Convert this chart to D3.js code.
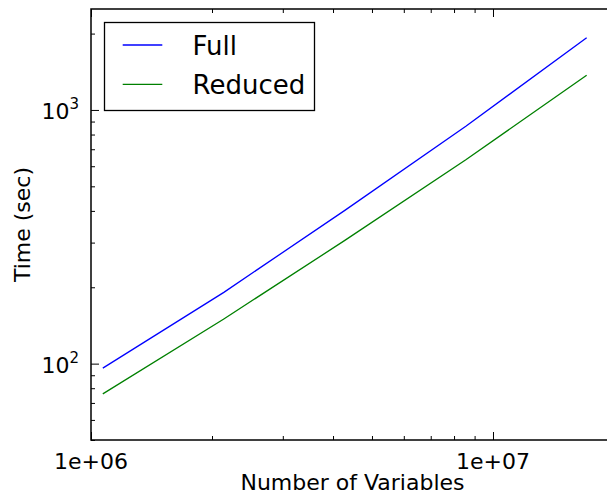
<!DOCTYPE html>
<html>
<head>
<meta charset="utf-8">
<script src="https://cdn.jsdelivr.net/npm/d3@7"></script>
<style>
body { margin: 0; background: #fff; }
svg { display: block; font-family: "DejaVu Sans", sans-serif; }
.axis path { display: none; }
.axis line { stroke: #000; stroke-width: 1; }
</style>
</head>
<body>
<svg id="chart"></svg>
<script>
var variables = [1.07e6, 2.14e6, 4.28e6, 8.56e6, 1.71e7];
var fullTime = [96, 191, 402, 863, 1926];
var reducedTime = [76, 150, 306, 636, 1370];
var seriesNames = ["Full", "Reduced"];
var seriesColors = ["#0000ff", "#008000"];
var xMajor = [1e6, 1e7];
var yMajor = [100, 1000];

var width = 607, height = 494;
var mLeft = 91, mTop = 9, mBottom = 440, mRight = 614;

var svg = d3.select("#chart").attr("width", width).attr("height", height);

var x = d3.scaleLog().domain([1e6, 2e7]).range([mLeft, mRight]);
var y = d3.scaleLog().domain([50, 2500]).range([mBottom, mTop]);

// minor ticks, 2..9 per decade
var xMinor = [], yMinor = [];
[1e6, 1e7].forEach(function (d) {
    for (var k = 2; k <= 9; k++) if (d * k <= 2e7) xMinor.push(d * k);
});
[10, 100, 1000].forEach(function (d) {
    for (var k = 2; k <= 9; k++) if (d * k >= 50 && d * k <= 2500) yMinor.push(d * k);
});

var plotH = mBottom - mTop, plotW = mRight - mLeft;

function tickLayer(axis) {
    return svg.append("g").attr("class", "axis").call(axis);
}
// bottom and top
tickLayer(d3.axisBottom(x).tickValues(xMajor).tickSize(-8).tickFormat(""))
    .attr("transform", "translate(0," + mBottom + ")");
tickLayer(d3.axisBottom(x).tickValues(xMinor).tickSize(-4).tickFormat(""))
    .attr("transform", "translate(0," + mBottom + ")");
tickLayer(d3.axisTop(x).tickValues(xMajor).tickSize(-8).tickFormat(""))
    .attr("transform", "translate(0," + mTop + ")");
tickLayer(d3.axisTop(x).tickValues(xMinor).tickSize(-4).tickFormat(""))
    .attr("transform", "translate(0," + mTop + ")");
// left (the right side is cut off in the picture)
tickLayer(d3.axisLeft(y).tickValues(yMajor).tickSize(-8).tickFormat(""))
    .attr("transform", "translate(" + mLeft + ",0)");
tickLayer(d3.axisLeft(y).tickValues(yMinor).tickSize(-4).tickFormat(""))
    .attr("transform", "translate(" + mLeft + ",0)");

// frame
svg.append("rect")
    .attr("x", mLeft).attr("y", mTop)
    .attr("width", plotW).attr("height", plotH)
    .attr("fill", "none").attr("stroke", "#000").attr("stroke-width", 1.5);

// tick labels
svg.append("g").selectAll("text")
    .data(xMajor)
    .enter().append("text")
    .attr("x", function (d) { return x(d); })
    .attr("y", 469)
    .attr("text-anchor", "middle")
    .attr("font-size", 22)
    .text(function (d) { return d3.format(".0e")(d).replace("e+", "e+0"); });

var yl = svg.append("g").selectAll("text")
    .data(yMajor)
    .enter().append("text")
    .attr("x", 79)
    .attr("y", function (d) { return y(d) + 9; })
    .attr("text-anchor", "end")
    .attr("font-size", 22);
yl.append("tspan").text("10");
yl.append("tspan").attr("dy", -10).attr("font-size", 15)
    .text(function (d) { return Math.round(Math.log10(d)); });

// axis titles
svg.append("text")
    .attr("x", (mLeft + mRight) / 2).attr("y", 490)
    .attr("text-anchor", "middle").attr("font-size", 22)
    .text("Number of Variables");
svg.append("text")
    .attr("transform", "translate(30," + ((mTop + mBottom) / 2) + ") rotate(-90)")
    .attr("text-anchor", "middle").attr("font-size", 22)
    .text("Time (sec)");

// lines
var series = [fullTime, reducedTime];
var line = d3.line()
    .x(function (d, i) { return x(variables[i]); })
    .y(function (d) { return y(d); });

svg.append("g").selectAll("path")
    .data(series)
    .enter().append("path")
    .attr("d", line)
    .attr("fill", "none")
    .attr("stroke", function (d, i) { return seriesColors[i]; })
    .attr("stroke-width", 1.3);

// legend
var legend = svg.append("g");
legend.append("rect")
    .attr("x", 104.5).attr("y", 22.5)
    .attr("width", 210).attr("height", 88)
    .attr("fill", "#fff").attr("stroke", "#000").attr("stroke-width", 1.3);
var item = legend.selectAll("g.item")
    .data(seriesNames)
    .enter().append("g")
    .attr("transform", function (d, i) { return "translate(0," + (45 + i * 39.3) + ")"; });
item.append("line")
    .attr("x1", 122.7).attr("x2", 162.3)
    .attr("stroke", function (d, i) { return seriesColors[i]; })
    .attr("stroke-width", 1.3);
item.append("text")
    .attr("x", 192.5).attr("y", 9.5)
    .attr("font-size", 26)
    .text(function (d) { return d; });
</script>
</body>
</html>
